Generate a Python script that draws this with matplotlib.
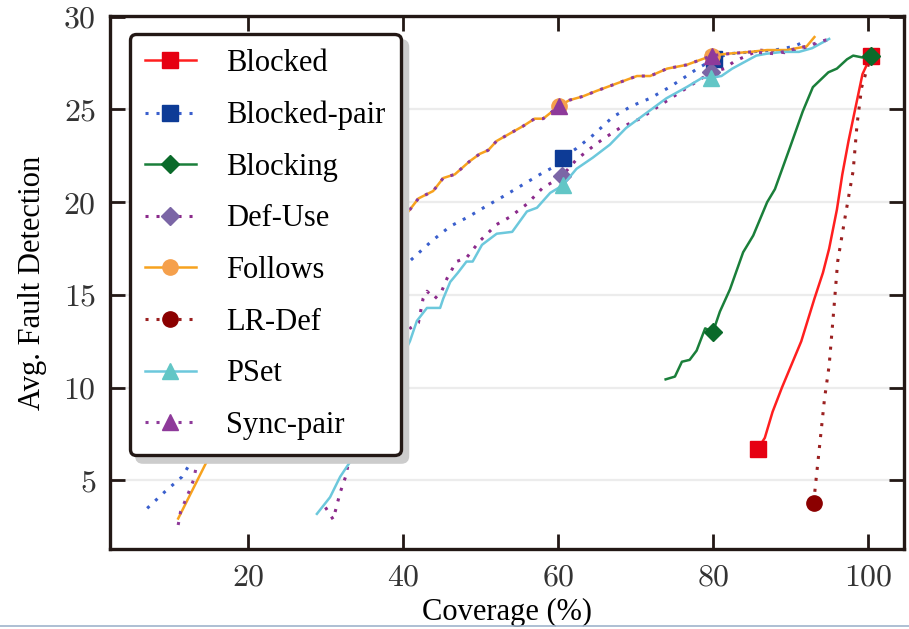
import matplotlib
matplotlib.use('Agg')
import matplotlib.pyplot as plt
from matplotlib.ticker import FuncFormatter
from matplotlib.lines import Line2D

plt.rcParams['font.family'] = ['Liberation Serif', 'DejaVu Serif']
plt.rcParams['mathtext.fontset'] = 'cm'

# Blocked
blocked_x = [85.8, 86.7, 87.7, 88.9, 90.3, 91.4, 93.1, 94.2, 95.0, 96.0, 96.7, 97.5, 98.3, 99.3, 100.4]
blocked_y = [6.7, 7.3, 8.7, 10.0, 11.4, 12.5, 14.8, 16.2, 17.5, 19.6, 21.5, 23.3, 24.9, 26.9, 27.9]

# Blocked-pair
bpair_x = [7.0, 9.3, 11.5, 12.8, 41.6, 43.7, 46.1, 48.4, 50.8, 52.9, 55.3, 57.7, 59.9, 60.6,
           62.4, 64.5, 67.1, 69.6, 71.9, 74.4, 76.6, 78.0, 80.1, 82.0, 85.0, 88.0, 90.5, 91.5]
bpair_y = [3.5, 4.4, 5.2, 6.1, 17.1, 17.9, 18.7, 19.2, 19.8, 20.3, 20.9, 21.5, 22.0, 22.4,
           22.9, 23.6, 24.6, 25.2, 25.6, 26.2, 26.8, 27.2, 27.7, 28.0, 28.1, 28.2, 28.4, 28.6]

# Blocking
blocking_x = [73.9, 75.1, 76.0, 77.0, 77.9, 79.0, 80.0, 80.9, 82.2, 83.9, 85.2, 87.0, 88.0, 89.9,
              91.6, 92.9, 94.9, 96.0, 97.3, 98.1, 99.3, 100.4]
blocking_y = [10.45, 10.6, 11.4, 11.5, 12.0, 13.2, 13.0, 14.1, 15.3, 17.3, 18.2, 20.0, 20.7, 22.9,
              24.9, 26.2, 27.0, 27.2, 27.7, 27.9, 27.8, 27.9]

# Def-Use
defuse_x = [30.0, 31.0, 31.9, 32.6, 33.0, 40.9, 42.0, 42.6, 43.1, 44.1, 45.0, 45.7, 46.9, 48.2,
            49.9, 52.1, 53.8, 56.0, 58.1, 59.4, 60.5, 62.4, 64.5, 65.8, 68.0, 70.6, 73.1, 75.3,
            77.9, 79.8, 81.5, 82.8, 86.0, 89.5, 93.4, 95.0]
defuse_y = [3.55, 2.9, 4.35, 5.2, 6.0, 13.2, 13.5, 14.8, 15.2, 14.8, 15.2, 15.9, 16.8, 17.0,
            17.9, 18.8, 19.2, 19.9, 20.8, 21.1, 21.4, 22.3, 23.0, 23.4, 24.0, 24.5, 25.2, 25.8,
            26.5, 27.0, 27.2, 27.6, 28.2, 28.05, 28.5, 28.8]

# Follows
follows_x = [11.0, 14.9, 40.9, 42.0, 43.9, 45.2, 46.7, 48.6, 49.9, 51.0, 52.1, 53.8, 55.5, 57.0,
             58.1, 59.3, 60.2, 61.5, 63.2, 65.0, 67.6, 70.2, 71.9, 74.1, 76.6, 77.9, 79.9,
             81.8, 84.8, 87.0, 89.5, 92.1, 92.5, 93.1]
follows_y = [2.95, 6.2, 19.6, 20.2, 20.6, 21.3, 21.5, 22.2, 22.6, 22.8, 23.3, 23.7, 24.1, 24.5,
             24.5, 24.9, 25.2, 25.5, 25.7, 26.0, 26.4, 26.8, 26.8, 27.2, 27.4, 27.6, 27.9,
             28.0, 28.1, 28.2, 28.2, 28.4, 28.6, 28.9]

# LR-Def
lrdef_x = [93.0, 93.4, 93.9, 94.4, 95.0, 95.6, 96.1, 97.1, 98.1, 98.6, 99.2, 100.4]
lrdef_y = [3.8, 5.4, 7.4, 9.4, 11.2, 14.2, 16.8, 19.3, 21.7, 24.2, 26.2, 27.9]

# PSet
pset_x = [28.9, 30.6, 31.9, 33.5, 40.9, 41.8, 43.1, 44.8, 45.2, 46.1, 47.1, 48.2, 49.0, 50.2,
          52.1, 54.1, 56.0, 57.3, 59.0, 60.6, 62.4, 64.5, 66.7, 68.8, 71.4, 74.0, 76.6, 78.6,
          79.8, 81.1, 82.5, 85.6, 86.9, 89.0, 91.1, 92.8, 95.0]
pset_y = [3.2, 4.1, 5.2, 6.2, 12.5, 13.6, 14.3, 14.3, 14.8, 15.7, 16.2, 16.8, 16.8, 17.7,
          18.3, 18.4, 19.5, 19.7, 20.5, 20.9, 21.8, 22.4, 23.1, 24.0, 24.8, 25.6, 26.2, 26.7,
          26.7, 26.8, 27.2, 27.9, 28.0, 28.1, 28.1, 28.3, 28.8]

# Sync-pair
sync_x = [11.0, 11.3, 12.4, 13.0, 13.5, 40.9, 42.0, 43.9, 45.2, 46.7, 48.6, 49.9, 51.0, 52.1,
          53.8, 55.5, 57.0, 58.1, 59.3, 60.2, 61.5, 63.2, 65.0, 67.6, 70.2, 71.9, 74.1, 76.6,
          77.9, 79.9, 82.0, 85.0, 88.0, 90.0, 92.0, 95.0]
sync_y = [2.6, 3.3, 4.4, 5.05, 6.1, 19.6, 20.2, 20.6, 21.3, 21.5, 22.2, 22.6, 22.8, 23.3,
          23.7, 24.1, 24.5, 24.5, 24.9, 25.2, 25.5, 25.7, 26.0, 26.4, 26.8, 26.8, 27.2, 27.4,
          27.6, 27.9, 28.0, 28.1, 28.0, 28.2, 28.4, 28.8]

x_ticks = [20, 40, 60, 80, 100]
y_ticks = [5, 10, 15, 20, 25, 30]

dot = (0, (1, 2.6))

fig = plt.figure(figsize=(9.09, 6.29), dpi=100)
ax = fig.add_axes([0.121, 0.127, 0.873, 0.848])

for yv in y_ticks:
    ax.axhline(yv, color='#ececec', lw=1.6, zorder=0)

ax.plot(blocked_x, blocked_y, color='#ff1f1f', lw=1.8, marker='s', ms=11,
        mfc='#e60012', mec='#e60012', markevery=[0, len(blocked_x) - 1], label='Blocked')
ax.plot(bpair_x, bpair_y, color='#3a5fcd', lw=2.2, ls=dot, marker='s', ms=11,
        mfc='#0d3b96', mec='#0d3b96', markevery=[13, 22], label='Blocked-pair')
ax.plot(blocking_x, blocking_y, color='#1a7f3a', lw=1.8, marker='D', ms=9.5,
        mfc='#0a6a2a', mec='#0a6a2a', markevery=[6, len(blocking_x) - 1], label='Blocking')
ax.plot(defuse_x, defuse_y, color='#8b2a8b', lw=2.2, ls=dot, marker='D', ms=9.5,
        mfc='#7b66a6', mec='#7b66a6', markevery=[20, 29], label='Def-Use')
ax.plot(follows_x, follows_y, color='#f7a21e', lw=1.8, marker='o', ms=11,
        mfc='#f5a04c', mec='#f5a04c', markevery=[16, 26], label='Follows')
ax.plot(lrdef_x, lrdef_y, color='#9b2020', lw=2.2, ls=dot, marker='o', ms=11,
        mfc='#8b0000', mec='#8b0000', markevery=[0], label='LR-Def', zorder=1.9)
ax.plot(pset_x, pset_y, color='#6cc8dc', lw=1.8, marker='^', ms=11,
        mfc='#62c6c6', mec='#62c6c6', markevery=[19, 28], label='PSet')
ax.plot(sync_x, sync_y, color='#8e3a9a', lw=2.2, ls=dot, marker='^', ms=11,
        mfc='#8e3a9a', mec='#8e3a9a', markevery=[19, 29], label='Sync-pair')

ax.set_xlim(2.2, 104.6)
ax.set_ylim(1.3, 30.05)
ax.set_xticks(x_ticks)
ax.set_yticks(y_ticks)
fmt = FuncFormatter(lambda v, p: '$%d$' % v)
ax.xaxis.set_major_formatter(fmt)
ax.yaxis.set_major_formatter(fmt)
ax.tick_params(direction='in', length=11, width=2, color='#231815', labelsize=23,
               top=True, right=True, pad=10, labelcolor='#333333')
for s in ax.spines.values():
    s.set_linewidth(2.4)
    s.set_color('#231815')

ax.set_xlabel('Coverage (%)', fontsize=22, labelpad=4)
ax.set_ylabel('Avg. Fault Detection', fontsize=22, labelpad=12)

leg = ax.legend(loc='upper left', bbox_to_anchor=(0.025, 0.966), borderaxespad=0,
                fontsize=22, handlelength=1.65, handletextpad=1.0, labelspacing=0.74,
                borderpad=0.5, frameon=True, fancybox=True, framealpha=1,
                shadow={'ox': 5, 'oy': -5, 'color': '#cccccc', 'alpha': 1})
leg.get_frame().set_edgecolor('#231815')
leg.get_frame().set_linewidth(2.4)

fig.add_artist(Line2D([0, 1], [0.004, 0.004], transform=fig.transFigure,
                      color='#9fb4cc', lw=1.2))

fig.savefig('out.png', dpi=100)
